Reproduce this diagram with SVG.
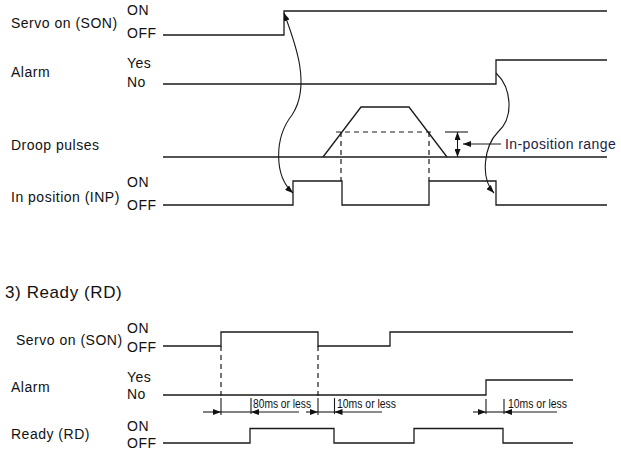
<svg xmlns="http://www.w3.org/2000/svg" width="621" height="460" viewBox="0 0 621 460">
<defs>
<marker id="ah" viewBox="0 0 8 6" refX="8" refY="3" markerWidth="8" markerHeight="6" markerUnits="userSpaceOnUse" orient="auto-start-reverse">
<path d="M0,0 L8,3 L0,6 z" fill="#111"/>
</marker>
<style>
.lbl{font-family:"Liberation Sans",Arial,sans-serif;font-size:14px;letter-spacing:0.5px;fill:#111}
.dim{font-family:"Liberation Sans",Arial,sans-serif;font-size:12.5px;fill:#111}
.sig{fill:none;stroke:#1a1a1a;stroke-width:1.3}
.dash{fill:none;stroke:#1a1a1a;stroke-width:1.2;stroke-dasharray:5 4}
.thin{fill:none;stroke:#1a1a1a;stroke-width:1.1}
</style>
</defs>
<rect width="621" height="460" fill="#fff"/>

<!-- Top timing chart -->
<g id="son1">
<text class="lbl" x="11" y="28">Servo on (SON)</text>
<text class="lbl" x="127" y="15">ON</text>
<text class="lbl" x="127" y="38">OFF</text>
<path class="sig" d="M163,35 H284 V11 H607"/>
</g>
<g id="alarm1">
<text class="lbl" x="11" y="77">Alarm</text>
<text class="lbl" x="127" y="68">Yes</text>
<text class="lbl" x="127" y="87">No</text>
<path class="sig" d="M163,84 H496 V60 H607"/>
</g>
<g id="droop">
<text class="lbl" x="11" y="150">Droop pulses</text>
<path class="sig" d="M163,157 H607"/>
<path class="sig" d="M323,157 L361,107 H409 L447,157"/>
<path class="dash" d="M336,132 H434 M341,132 V181 M429,132 V181"/>
</g>
<g id="inp">
<text class="lbl" x="11" y="202">In position (INP)</text>
<text class="lbl" x="127" y="187">ON</text>
<text class="lbl" x="127" y="210">OFF</text>
<path class="sig" d="M163,205 H293 V181 H342 V205 H429 V181 H496 V205 H607"/>
</g>
<g id="range">
<path class="thin" d="M445,132 H468"/>
<path class="thin" d="M457.5,132 V157" marker-start="url(#ah)" marker-end="url(#ah)"/>
<path class="thin" d="M501,144 H463" marker-end="url(#ah)"/>
<text class="lbl" x="505" y="149" style="letter-spacing:0.4px;fill:#1c1c48">In-position range</text>
</g>
<g id="connectors-top">
<path class="thin" d="M284,13 C294,40 312,85 292,115 C274,138 274,176 293,193" marker-start="url(#ah)" marker-end="url(#ah)"/>
<path class="thin" d="M496,73 C512,88 514,118 498,132 C484,146 480,178 494,193" marker-end="url(#ah)"/>
</g>

<!-- Section title -->
<text id="title" x="5" y="298" style="font-family:'Liberation Sans',Arial,sans-serif;font-size:17px;letter-spacing:0.6px;fill:#111">3) Ready (RD)</text>

<!-- Bottom timing chart -->
<g id="son2">
<text class="lbl" x="16" y="345">Servo on (SON)</text>
<text class="lbl" x="127" y="333">ON</text>
<text class="lbl" x="127" y="352">OFF</text>
<path class="sig" d="M163,346 H221 V332 H318 V346 H390 V332 H573"/>
</g>
<g id="alarm2">
<text class="lbl" x="11" y="392">Alarm</text>
<text class="lbl" x="127" y="382">Yes</text>
<text class="lbl" x="127" y="399">No</text>
<path class="sig" d="M163,395 H486 V380 H573"/>
</g>
<g id="rd">
<text class="lbl" x="11" y="439">Ready (RD)</text>
<text class="lbl" x="127" y="431">ON</text>
<text class="lbl" x="127" y="448">OFF</text>
<path class="sig" d="M163,443 H250 V428.5 H334 V443 H414 V428.5 H503 V443 H573"/>
</g>
<g id="timing-dims">
<path class="dash" d="M221,346 V398 M318,346 V398"/>
<path class="thin" d="M221,398 V415 M251,398 V414 M318,398 V415 M334.5,398 V414 M486,399 V414 M504,399 V414"/>
<path class="thin" d="M203,412 H221" marker-end="url(#ah)"/>
<path class="thin" d="M221,412 H251"/>
<path class="thin" d="M299,412 H251" marker-end="url(#ah)"/>
<path class="thin" d="M306,412 H318" marker-end="url(#ah)"/>
<path class="thin" d="M318,412 H334.5"/>
<path class="thin" d="M382,412 H334.5" marker-end="url(#ah)"/>
<path class="thin" d="M473,412 H486" marker-end="url(#ah)"/>
<path class="thin" d="M486,412 H504"/>
<path class="thin" d="M557,412 H504" marker-end="url(#ah)"/>
<text class="dim" x="253" y="408" textLength="58" lengthAdjust="spacingAndGlyphs">80ms or less</text>
<text class="dim" x="337" y="408" textLength="59" lengthAdjust="spacingAndGlyphs">10ms or less</text>
<text class="dim" x="508" y="408" textLength="59" lengthAdjust="spacingAndGlyphs">10ms or less</text>
</g>
</svg>
